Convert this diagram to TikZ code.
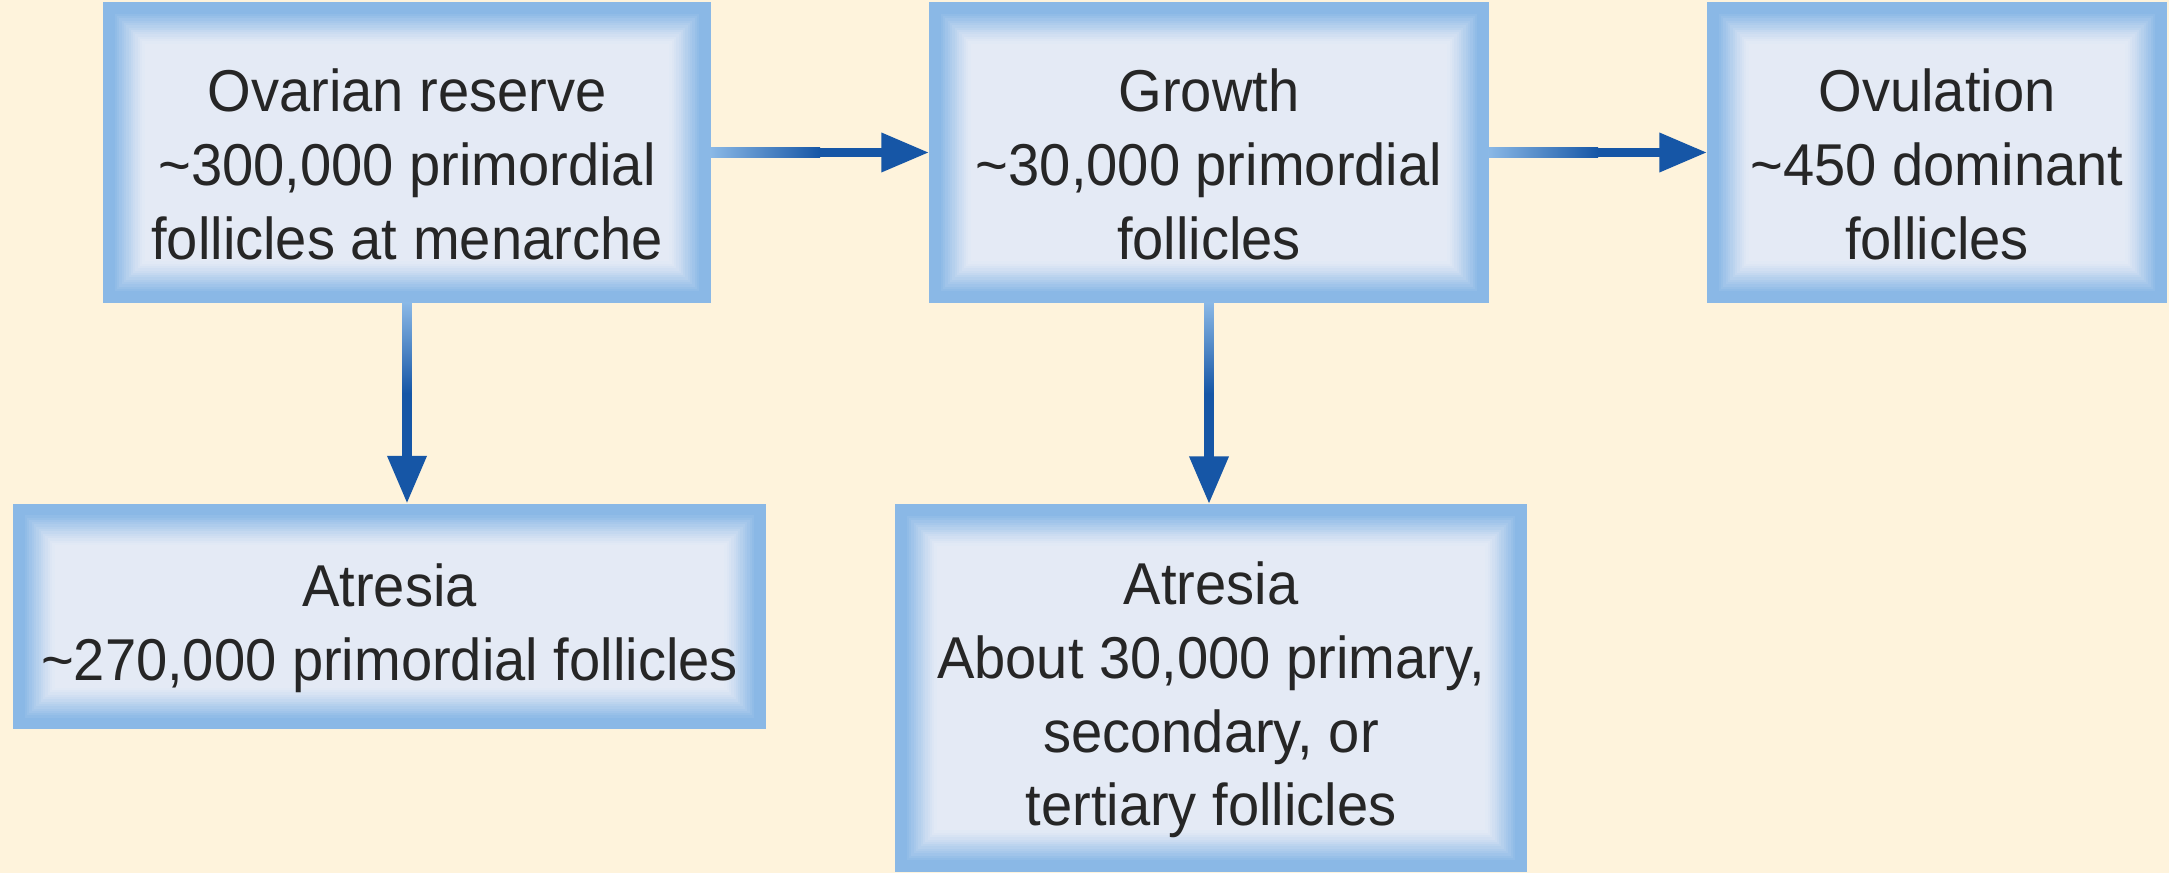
\documentclass[tikz,border=0pt]{standalone}
\usepackage{fontspec}
\setmainfont{Liberation Sans}[FakeStretch=0.95]
\usepackage{xcolor}
\usetikzlibrary{arrows.meta,calc,backgrounds}
\definecolor{ColPaper}{RGB}{254,243,220}
\definecolor{ColEdge}{RGB}{138,184,230}
\definecolor{ColInner}{RGB}{228,234,245}
\definecolor{ColArrow}{RGB}{22,86,166}
\newcommand{\lift}{\rule{0pt}{19pt}}

\begin{document}
\begin{tikzpicture}[
  >={Triangle[length=4.8mm,width=3.7mm]},
  every node/.style={font=\fontsize{16.8}{21}\selectfont, text=black!85},
  stage/.style={align=center, inner sep=0pt},
  flow/.style={->, line width=2.8pt, ColArrow}
]
  % top row: reserve -> growth -> ovulation
  \node[stage, minimum width=6.06cm, minimum height=2.99cm] (reserve) at (4.07,-1.525)
    {\lift Ovarian reserve\\\textasciitilde300,000 primordial\\follicles at menarche};
  \node[stage, minimum width=5.58cm, minimum height=2.99cm] (growth) at (12.09,-1.525)
    {\lift Growth\\\textasciitilde30,000 primordial\\follicles};
  \node[stage, minimum width=4.58cm, minimum height=2.99cm] (ovul) at (19.37,-1.525)
    {\lift Ovulation\\\textasciitilde450 dominant\\follicles};

  % bottom row: the two atresia boxes
  \node[stage, minimum width=7.51cm, minimum height=2.24cm] (atrOne) at (3.895,-6.165)
    {\lift Atresia\\\textasciitilde270,000 primordial follicles};
  \node[stage, minimum width=6.30cm, minimum height=3.66cm] (atrTwo) at (12.11,-6.88)
    {\lift Atresia\\About 30,000 primary,\\secondary, or\\tertiary follicles};

  % paper and bevelled frames behind the text
  \begin{scope}[on background layer]
    \fill[ColPaper] (0,0) rectangle (21.69,-8.73);
    \foreach \n in {reserve,growth,ovul,atrOne,atrTwo}{
      \foreach \k/\p in {0/100,1/100,2/100,3/100,4/100,5/92,6/84,7/76,8/68,9/60,10/52,11/44,12/36,13/28,14/21,15/14,16/8,17/3,18/0}{
        \fill[ColEdge!\p!ColInner] ($(\n.south west)+(\k*0.023,\k*0.023)$) rectangle ($(\n.north east)-(\k*0.023,\k*0.023)$);
      }
    }
  \end{scope}

  \draw[flow] (reserve) -- (growth);
  \draw[flow] (growth) -- (ovul);
  \draw[flow] (reserve.south) -- (reserve.south |- atrOne.north);
  \draw[flow] (growth.south) -- (growth.south |- atrTwo.north);

  % light tails of the arrows
  \shade[left color=ColEdge, right color=ColArrow]
    ($(reserve.east)+(0,0.049)$) rectangle ($($(reserve.east)!0.5!(growth.west)$)+(0,-0.049)$);
  \shade[left color=ColEdge, right color=ColArrow]
    ($(growth.east)+(0,0.049)$) rectangle ($($(growth.east)!0.5!(ovul.west)$)+(0,-0.049)$);
  \shade[top color=ColEdge, bottom color=ColArrow]
    ($(reserve.south)+(-0.049,0)$) rectangle ($($(reserve.south)!0.45!(reserve.south |- atrOne.north)$)+(0.049,0)$);
  \shade[top color=ColEdge, bottom color=ColArrow]
    ($(growth.south)+(-0.049,0)$) rectangle ($($(growth.south)!0.45!(growth.south |- atrTwo.north)$)+(0.049,0)$);

  \useasboundingbox (0,0) rectangle (21.69,-8.73);
\end{tikzpicture}
\end{document}
